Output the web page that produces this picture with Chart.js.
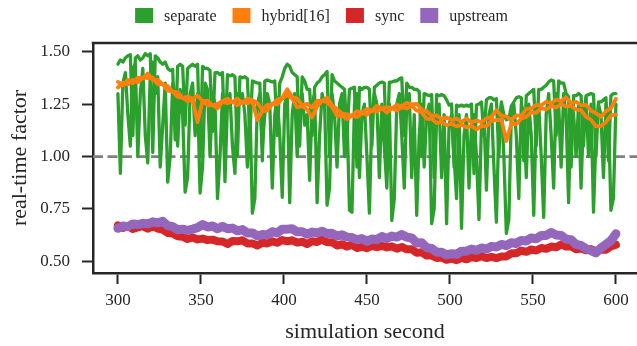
<!DOCTYPE html>
<html lang="en">
<head>
<meta charset="UTF-8">
<title>real-time factor</title>
<style>
  html, body { margin: 0; padding: 0; background: #fff; overflow: hidden; }
  #wrap { width: 637px; height: 346px; position: relative; }
</style>
<script src="https://cdn.jsdelivr.net/npm/chart.js@4"></script>
</head>
<body>
<div id="wrap"><canvas id="chart"></canvas></div>
<script>
// sampling grids: the separate runs every 1.5 s, the others every 3 s (300..600)
const fineSeconds = [];
for (let s = 300; s <= 600; s += 1.5) fineSeconds.push(s);
const seconds = [];
for (let s = 300; s <= 600; s += 3) seconds.push(s);

const xTicks = [300, 350, 400, 450, 500, 550, 600];
const yTicks = [0.50, 0.75, 1.00, 1.25, 1.50];
const refLevel = 1.0;

const seriesNames = ['separate', 'hybrid[16]', 'sync', 'upstream'];
const seriesColors = ['#2ca02c', '#ff7f0e', '#d62728', '#9467bd'];

// one row = 15 s
const separateRunA = [
  1.44, 1.46, 1.45, 1.47, 1.48, 1.485, 1.10, 1.47, 1.48, 1.46,
  1.47, 1.49, 1.48, 1.49, 1.02, 1.48, 1.47, 1.45, 1.44, 1.45,
  1.42, 1.41, 1.415, 1.08, 1.43, 1.44, 1.43, 1.15, 1.42, 1.43,
  1.44, 1.43, 1.44, 1.0, 1.43, 1.42, 1.42, 1.41, 1.12, 1.40,
  1.40, 1.39, 1.40, 1.05, 1.39, 1.385, 1.39, 1.38, 1.0, 1.38,
  1.375, 1.38, 1.37, 1.1, 1.36, 1.355, 1.35, 1.35, 0.98, 1.36,
  1.365, 1.36, 1.355, 1.36, 1.10, 1.35, 1.38, 1.42, 1.44, 1.43,
  1.40, 1.39, 1.38, 1.05, 1.38, 1.36, 1.32, 1.32, 1.1, 1.33,
  1.35, 1.36, 1.38, 1.39, 1.405, 1.0, 1.39, 1.36, 1.35, 1.34,
  1.33, 1.32, 1.1, 1.32, 1.325, 1.33, 0.95, 1.33, 1.32, 1.33,
  1.33, 1.32, 1.05, 1.33, 1.34, 1.35, 1.355, 1.35, 0.98, 1.355,
  1.355, 1.36, 1.36, 1.37, 1.375, 1.1, 1.35, 1.33, 1.33, 1.32,
  1.32, 1.31, 1.0, 1.30, 1.295, 1.29, 1.295, 0.9, 1.295, 1.29,
  1.295, 1.29, 1.27, 1.245, 1.25, 0.95, 1.245, 1.24, 1.245, 1.24,
  1.245, 1.24, 1.25, 0.92, 1.245, 1.25, 1.26, 1.1, 1.27, 1.28,
  1.28, 1.27, 1.275, 1.0, 1.26, 1.2, 1.175, 1.18, 1.24, 1.26,
  1.28, 1.285, 1.28, 0.98, 1.29, 1.3, 1.31, 1.32, 1.05, 1.32,
  1.32, 1.33, 1.34, 1.355, 1.365, 1.36, 1.1, 1.36, 1.35, 1.35,
  1.30, 1.285, 0.95, 1.29, 1.29, 1.3, 1.29, 1.05, 1.29, 1.295,
  1.30, 1.295, 1.0, 1.26, 1.26, 1.27, 1.28, 0.98, 1.29, 1.30,
  1.30
];
const separateRunB = [
  1.30, 0.92, 1.35, 1.40, 1.2, 1.05, 1.42, 1.44, 1.0, 1.3,
  1.42, 1.1, 0.97, 1.4, 1.45, 1.3, 1.38, 0.95, 1.15, 1.35,
  0.878, 1.0, 1.35, 1.3, 1.05, 1.32, 1.2, 0.83, 0.9, 1.3,
  1.35, 1.1, 1.3, 0.826, 0.95, 1.35, 1.32, 1.0, 1.3, 1.25,
  0.80, 1.0, 1.3, 0.88, 1.25, 1.3, 1.05, 0.92, 1.3, 1.25,
  1.3, 1.2, 0.95, 1.25, 0.73, 0.8, 1.25, 1.3, 1.05, 1.2,
  1.3, 1.25, 0.85, 1.2, 1.28, 1.1, 0.806, 1.25, 1.3, 0.78,
  1.2, 1.3, 1.0, 1.25, 1.3, 1.15, 1.2, 0.887, 1.25, 1.3,
  0.78, 1.1, 1.3, 1.25, 0.768, 0.85, 1.3, 1.2, 0.95, 1.25,
  1.3, 1.0, 1.2, 0.744, 0.735, 1.25, 1.3, 0.9, 1.2, 1.25,
  1.0, 0.73, 1.2, 1.3, 1.25, 0.9, 1.25, 1.05, 0.85, 1.25,
  0.695, 0.8, 1.25, 1.3, 1.1, 0.85, 1.25, 1.3, 0.9, 1.2,
  0.72, 1.1, 1.25, 0.95, 1.2, 1.25, 0.68, 0.75, 1.2, 1.25,
  0.9, 1.2, 0.68, 1.15, 1.2, 1.0, 0.8, 1.2, 0.658, 1.1,
  1.2, 0.85, 1.15, 1.2, 1.0, 0.7, 1.15, 1.2, 0.84, 1.2,
  1.25, 0.95, 0.687, 1.15, 1.25, 1.0, 0.634, 0.7, 1.2, 1.25,
  1.1, 0.8, 1.25, 1.2, 0.9, 1.25, 1.1, 0.72, 1.2, 1.25,
  1.0, 0.71, 1.2, 1.3, 1.1, 0.85, 1.3, 1.25, 0.95, 1.3,
  1.2, 0.78, 1.25, 1.2, 1.0, 1.25, 0.85, 1.2, 1.28, 1.0,
  1.25, 0.735, 1.1, 1.25, 1.2, 0.9, 1.25, 1.2, 0.744, 0.8,
  1.25
];
// one row = 30 s
const hybridRunA = [
  1.356, 1.339, 1.366, 1.349, 1.376, 1.374, 1.396, 1.364, 1.366, 1.344,
  1.336, 1.309, 1.306, 1.279, 1.286, 1.274, 1.291, 1.264, 1.266, 1.244,
  1.251, 1.264, 1.276, 1.259, 1.276, 1.254, 1.276, 1.269, 1.256, 1.224,
  1.246, 1.249, 1.271, 1.279, 1.321, 1.284, 1.276, 1.244, 1.251, 1.234,
  1.266, 1.264, 1.281, 1.244, 1.226, 1.204, 1.201, 1.194, 1.216, 1.209,
  1.226, 1.219, 1.241, 1.229, 1.236, 1.229, 1.246, 1.239, 1.256, 1.249,
  1.251, 1.224, 1.216, 1.194, 1.196, 1.179, 1.186, 1.174, 1.181, 1.164,
  1.181, 1.164, 1.171, 1.164, 1.181, 1.189, 1.221, 1.194, 1.191, 1.174,
  1.196, 1.194, 1.226, 1.229, 1.246, 1.244, 1.261, 1.254, 1.271, 1.264,
  1.281, 1.254, 1.261, 1.244, 1.246, 1.219, 1.206, 1.189, 1.216, 1.229,
  1.275
];
const hybridRunB = [
  1.329, 1.351, 1.344, 1.366, 1.354, 1.376, 1.374, 1.376, 1.344, 1.346,
  1.314, 1.311, 1.284, 1.281, 1.264, 1.271, 1.164, 1.266, 1.244, 1.246,
  1.229, 1.261, 1.254, 1.261, 1.244, 1.261, 1.254, 1.266, 1.174, 1.216,
  1.219, 1.251, 1.249, 1.276, 1.294, 1.276, 1.234, 1.241, 1.224, 1.186,
  1.239, 1.266, 1.259, 1.236, 1.194, 1.196, 1.179, 1.196, 1.189, 1.206,
  1.199, 1.221, 1.214, 1.231, 1.209, 1.231, 1.219, 1.236, 1.229, 1.241,
  1.219, 1.211, 1.179, 1.181, 1.159, 1.166, 1.149, 1.156, 1.144, 1.151,
  1.139, 1.146, 1.129, 1.146, 1.144, 1.171, 1.174, 1.176, 1.074, 1.156,
  1.154, 1.181, 1.189, 1.211, 1.209, 1.231, 1.224, 1.241, 1.234, 1.251,
  1.239, 1.241, 1.224, 1.221, 1.189, 1.176, 1.144, 1.146, 1.164, 1.196,
  1.2
];
const syncRun = [
  0.672, 0.660, 0.668, 0.655, 0.662, 0.668, 0.656, 0.668, 0.657, 0.652,
  0.636, 0.633, 0.620, 0.618, 0.607, 0.614, 0.605, 0.609, 0.602, 0.604,
  0.596, 0.595, 0.583, 0.598, 0.596, 0.601, 0.586, 0.586, 0.576, 0.589,
  0.586, 0.596, 0.589, 0.602, 0.596, 0.601, 0.590, 0.594, 0.583, 0.596,
  0.593, 0.604, 0.591, 0.592, 0.576, 0.582, 0.571, 0.580, 0.564, 0.570,
  0.563, 0.574, 0.568, 0.574, 0.567, 0.572, 0.561, 0.569, 0.558, 0.558,
  0.541, 0.544, 0.528, 0.529, 0.516, 0.519, 0.508, 0.514, 0.506, 0.517,
  0.510, 0.522, 0.516, 0.525, 0.516, 0.522, 0.516, 0.524, 0.524, 0.539,
  0.539, 0.552, 0.546, 0.557, 0.552, 0.564, 0.560, 0.571, 0.568, 0.581,
  0.571, 0.572, 0.558, 0.562, 0.553, 0.559, 0.549, 0.557, 0.556, 0.572,
  0.58
];
const upstreamRun = [
  0.658, 0.669, 0.666, 0.679, 0.676, 0.682, 0.679, 0.689, 0.684, 0.691,
  0.671, 0.666, 0.651, 0.654, 0.648, 0.654, 0.661, 0.676, 0.664, 0.669,
  0.656, 0.667, 0.656, 0.659, 0.646, 0.652, 0.636, 0.636, 0.622, 0.628,
  0.626, 0.642, 0.636, 0.654, 0.654, 0.656, 0.641, 0.642, 0.630, 0.640,
  0.636, 0.644, 0.633, 0.634, 0.621, 0.627, 0.616, 0.614, 0.604, 0.609,
  0.596, 0.607, 0.604, 0.619, 0.609, 0.621, 0.616, 0.628, 0.616, 0.612,
  0.588, 0.589, 0.566, 0.562, 0.544, 0.544, 0.531, 0.537, 0.534, 0.549,
  0.549, 0.559, 0.553, 0.564, 0.559, 0.572, 0.569, 0.581, 0.576, 0.589,
  0.586, 0.600, 0.598, 0.612, 0.608, 0.624, 0.624, 0.638, 0.626, 0.624,
  0.606, 0.604, 0.581, 0.576, 0.561, 0.552, 0.541, 0.564, 0.581, 0.599,
  0.632
];

const ink = '#262626';
const serif = "'Liberation Serif', 'DejaVu Serif', serif";

function run(times, values, color, width, order) {
  return {
    data: values.map((v, i) => ({ x: times[i], y: v })),
    borderColor: color,
    borderWidth: width,
    order: order,
    pointRadius: 0,
    fill: false
  };
}

// dashed reference line at 1.0 and the top spine
const framePlugin = {
  id: 'frame',
  beforeDatasetsDraw(chart) {
    const { ctx, chartArea, scales } = chart;
    const y = scales.y.getPixelForValue(refLevel);
    ctx.save();
    ctx.strokeStyle = '#808080';
    ctx.lineWidth = 2.8;
    ctx.setLineDash([10, 4.5]);
    ctx.beginPath();
    ctx.moveTo(chartArea.left, y);
    ctx.lineTo(chartArea.right, y);
    ctx.stroke();
    ctx.setLineDash([]);
    ctx.strokeStyle = ink;
    ctx.lineWidth = 2.5;
    ctx.beginPath();
    ctx.moveTo(chartArea.left - 1.25, chartArea.top);
    ctx.lineTo(chartArea.right, chartArea.top);
    ctx.stroke();
    ctx.restore();
  }
};

// legend row above the axes, as in the figure
const legendPlugin = {
  id: 'topLegend',
  afterDraw(chart) {
    const ctx = chart.ctx;
    ctx.save();
    ctx.font = "16px " + serif;
    ctx.textBaseline = 'middle';
    const boxW = 18, boxH = 15, gapText = 11, gapItem = 16;
    let total = 0;
    seriesNames.forEach((n, i) => {
      total += boxW + gapText + ctx.measureText(n).width + (i < seriesNames.length - 1 ? gapItem : 0);
    });
    let x = chart.width / 2 + 3 - total / 2;
    const y = 8;
    seriesNames.forEach((n, i) => {
      ctx.fillStyle = seriesColors[i];
      ctx.fillRect(x, y, boxW, boxH);
      x += boxW + gapText;
      ctx.fillStyle = ink;
      ctx.fillText(n, x, y + boxH / 2 + 1);
      x += ctx.measureText(n).width + gapItem;
    });
    ctx.restore();
  }
};

new Chart(document.getElementById('chart'), {
  type: 'line',
  data: {
    datasets: [
      run(seconds, upstreamRun, seriesColors[3], 9, 1),
      run(seconds, syncRun, seriesColors[2], 8, 2),
      run(seconds, hybridRunA, seriesColors[1], 3.8, 3),
      run(seconds, hybridRunB, seriesColors[1], 3.8, 3),
      run(fineSeconds, separateRunA, seriesColors[0], 3.3, 4),
      run(fineSeconds, separateRunB, seriesColors[0], 3.3, 4)
    ]
  },
  options: {
    responsive: true,
    maintainAspectRatio: false,
    animation: false,
    layout: { padding: { top: 43, left: 0, right: 0, bottom: 0 } },
    elements: { line: { tension: 0, borderJoinStyle: 'round', borderCapStyle: 'round' } },
    plugins: { legend: { display: false }, tooltip: { enabled: false } },
    scales: {
      x: {
        type: 'linear',
        min: 285,
        max: 612.7,
        afterBuildTicks: s => { s.ticks = xTicks.map(v => ({ value: v })); },
        afterFit: s => { s.height = 73; },
        grid: { display: true, drawOnChartArea: false, drawTicks: true, tickLength: 11, tickWidth: 2, tickColor: ink },
        border: { display: true, color: ink, width: 2.5 },
        ticks: { color: ink, font: { family: serif, size: 17 }, padding: 6, maxRotation: 0, autoSkip: false, callback: v => String(v) },
        title: { display: true, text: 'simulation second', color: ink, font: { family: serif, size: 22 }, padding: { top: 0, bottom: 1 } }
      },
      y: {
        type: 'linear',
        min: 0.445,
        max: 1.541,
        afterBuildTicks: s => { s.ticks = yTicks.map(v => ({ value: v })); },
        afterFit: s => { s.width = 93; },
        grid: { display: true, drawOnChartArea: false, drawTicks: true, tickLength: 11, tickWidth: 2, tickColor: ink },
        border: { display: true, color: ink, width: 2.5 },
        ticks: { color: ink, font: { family: serif, size: 17 }, padding: 12, callback: v => v.toFixed(2) },
        title: { display: true, text: 'real-time factor', color: ink, font: { family: serif, size: 22 }, padding: { top: 7, bottom: 0 } }
      }
    }
  },
  plugins: [framePlugin, legendPlugin]
});
</script>
</body>
</html>
